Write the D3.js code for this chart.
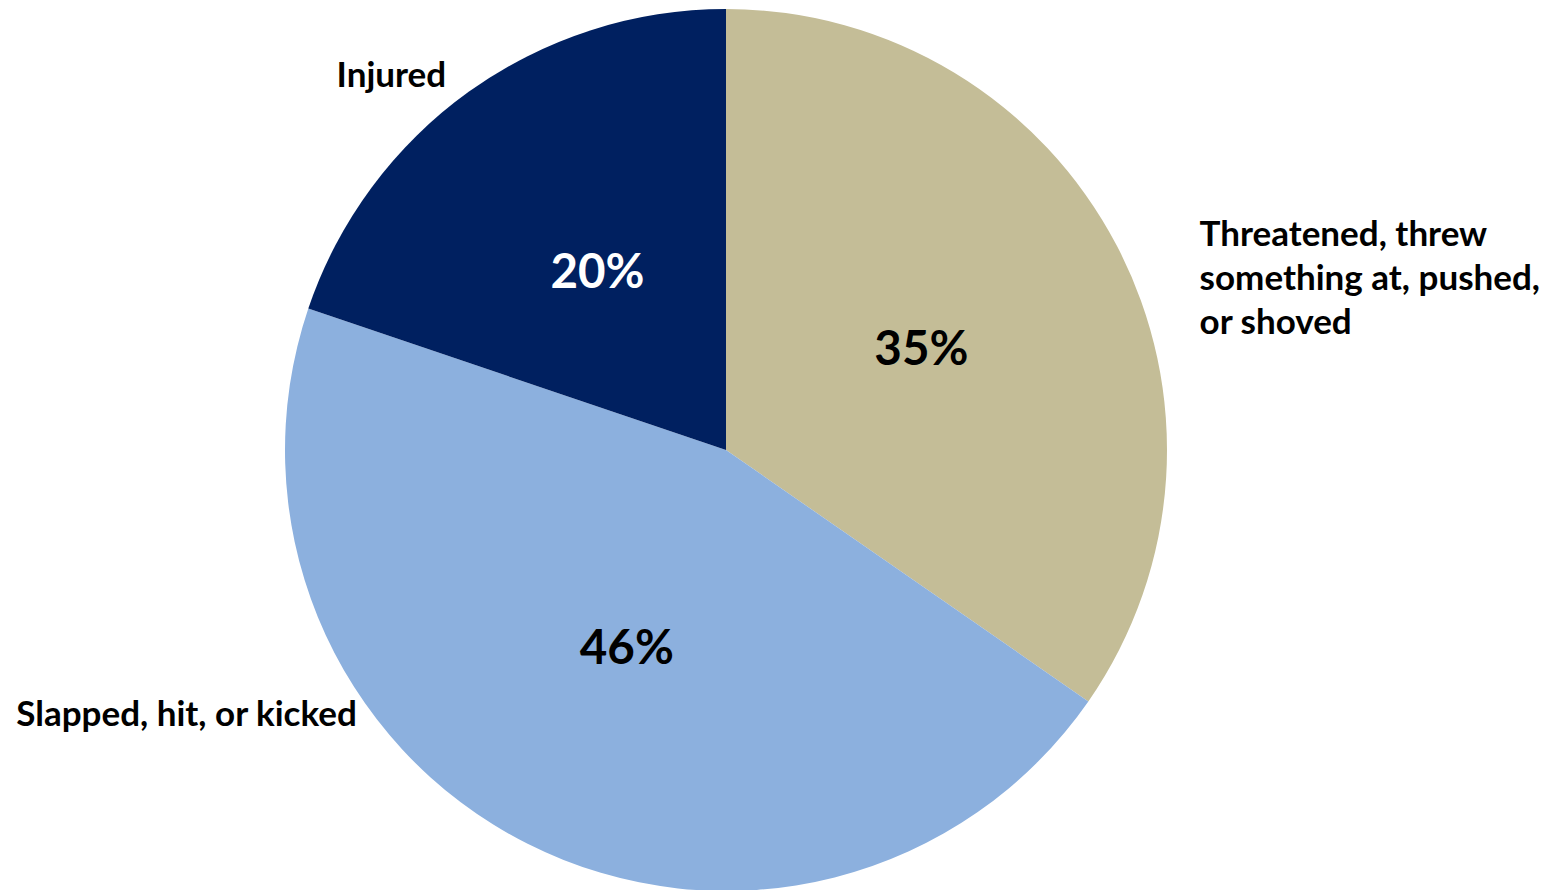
<!DOCTYPE html>
<html>
<head>
<meta charset="utf-8">
<script src="https://cdn.jsdelivr.net/npm/d3@7"></script>
<style>
  body { margin: 0; background: #fff; }
  svg { display: block; }
  text { font-family: Lato, "Open Sans", sans-serif; font-weight: bold; }
</style>
</head>
<body>
<div id="chart"></div>
<script>
// data
var categories = ["Threatened, threw something at, pushed, or shoved", "Slapped, hit, or kicked", "Injured"];
var labelLines = [["Threatened, threw", "something at, pushed,", "or shoved"], ["Slapped, hit, or kicked"], ["Injured"]];
var values = [35, 46, 20];
var colors = ["#C4BD97", "#8CB0DE", "#002060"];
var pctColors = ["#000", "#000", "#fff"];

var width = 1559, height = 890;
var cx = 726, cy = 450, r = 441;

var svg = d3.select("#chart").append("svg")
  .attr("width", width)
  .attr("height", height);

var g = svg.append("g")
  .attr("transform", "translate(" + cx + "," + cy + ")");

var pie = d3.pie().sort(null).value(function(d) { return d; });
var arcs = pie(values);

var arc = d3.arc().innerRadius(0).outerRadius(r);
var outerArc = d3.arc().innerRadius(r * 1.12).outerRadius(r * 1.12);

g.selectAll("path.slice")
  .data(arcs)
  .enter().append("path")
  .attr("class", "slice")
  .attr("d", arc)
  .attr("fill", function(d, i) { return colors[i]; });

// percent labels at the centroid
g.selectAll("text.pct")
  .data(arcs)
  .enter().append("text")
  .attr("class", "pct")
  .attr("transform", function(d) { return "translate(" + arc.centroid(d) + ")"; })
  .attr("text-anchor", "middle")
  .attr("dy", "0.36em")
  .style("font-size", "47.5px")
  .style("fill", function(d, i) { return pctColors[i]; })
  .text(function(d) { return d.data + "%"; });

// category labels outside, nudged like the original
var nudge = [[36, 25, "start"], [-147, -165, "end"], [8, 38, "end"]];

var lab = g.selectAll("text.cat")
  .data(arcs)
  .enter().append("text")
  .attr("class", "cat")
  .attr("transform", function(d, i) {
    var c = outerArc.centroid(d);
    return "translate(" + (c[0] + nudge[i][0]) + "," + (c[1] + nudge[i][1]) + ")";
  })
  .attr("text-anchor", function(d, i) { return nudge[i][2]; })
  .style("font-size", "35px")
  .style("fill", "#000");

lab.selectAll("tspan")
  .data(function(d, i) { return labelLines[i]; })
  .enter().append("tspan")
  .attr("x", 0)
  .attr("dy", function(d, j) { return j === 0 ? 0 : 44; })
  .text(function(d) { return d; });
</script>
</body>
</html>
